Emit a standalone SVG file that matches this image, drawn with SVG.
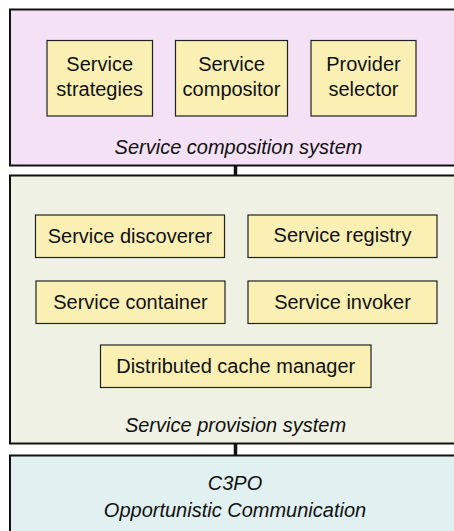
<svg xmlns="http://www.w3.org/2000/svg" width="454" height="531" viewBox="0 0 454 531">
<style>
.outer{stroke:#111;stroke-width:2}
.box{fill:#FAF0B4;stroke:#222;stroke-width:1.2}
.t{font-family:"Liberation Sans",Arial,sans-serif;font-size:20px;fill:#111;text-anchor:middle}
.i{font-style:italic}
.conn{stroke:#111;stroke-width:3.5}
</style>
<rect width="454" height="531" fill="#fff"/>
<g id="composition-system">
<rect class="outer" x="10" y="9.5" width="470" height="156" fill="#F5E1F5"/>
<text class="t i" x="238.5" y="154">Service composition system</text>
</g>
<g id="service-strategies">
<rect class="box" x="47" y="40.5" width="105.5" height="75.5"/>
<text class="t" x="99.7" y="71">Service</text>
<text class="t" x="99.7" y="95.5">strategies</text>
</g>
<g id="service-compositor">
<rect class="box" x="175.5" y="40.5" width="112" height="75.5"/>
<text class="t" x="231.5" y="71">Service</text>
<text class="t" x="231.5" y="95.5">compositor</text>
</g>
<g id="provider-selector">
<rect class="box" x="311" y="40.5" width="105" height="75.5"/>
<text class="t" x="363.5" y="71">Provider</text>
<text class="t" x="363.5" y="95.5">selector</text>
</g>
<g id="provision-system">
<rect class="outer" x="10" y="175.5" width="470" height="268" fill="#EEF1E3"/>
<text class="t i" x="235.5" y="431.5">Service provision system</text>
</g>
<g id="service-discoverer">
<rect class="box" x="35.5" y="215" width="189" height="42.5"/>
<text class="t" x="130" y="243">Service discoverer</text>
</g>
<g id="service-registry">
<rect class="box" x="248" y="215" width="189" height="42.5"/>
<text class="t" x="342.5" y="241.5">Service registry</text>
</g>
<g id="service-container">
<rect class="box" x="36" y="281" width="189" height="42.5"/>
<text class="t" x="130.5" y="308.5">Service container</text>
</g>
<g id="service-invoker">
<rect class="box" x="248" y="281" width="189" height="42.5"/>
<text class="t" x="342.5" y="308.5">Service invoker</text>
</g>
<g id="distributed-cache-manager">
<rect class="box" x="100.5" y="345" width="270.5" height="42.5"/>
<text class="t" x="235.7" y="372.5">Distributed cache manager</text>
</g>
<g id="c3po">
<rect class="outer" x="10" y="455.5" width="470" height="90" fill="#E1F0F0"/>
<text class="t i" x="235" y="490">C3PO</text>
<text class="t i" x="235" y="516.5">Opportunistic Communication</text>
</g>
<g id="connectors">
<line class="conn" x1="235.5" y1="166" x2="235.5" y2="175"/>
<line class="conn" x1="235.5" y1="444" x2="235.5" y2="455"/>
</g>
</svg>
